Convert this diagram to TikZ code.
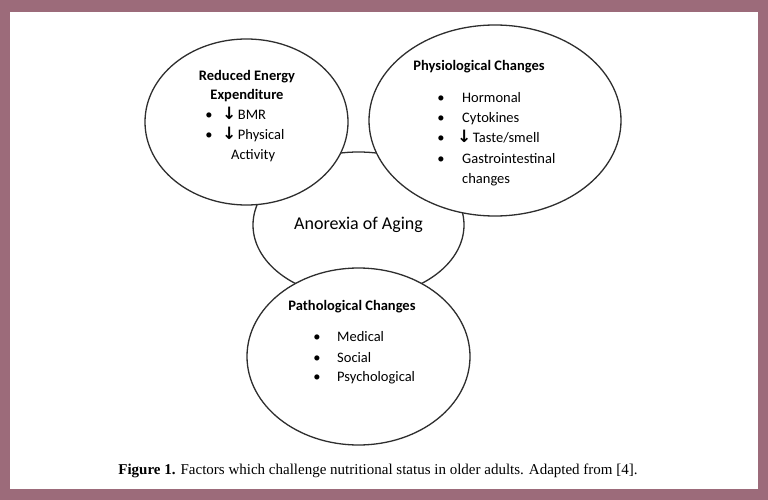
\documentclass[tikz,border=0pt]{standalone}
\usepackage{fontspec}
\usetikzlibrary{shapes.geometric}
\setmainfont{Carlito}
\newfontfamily\capfont{Liberation Serif}
\newfontfamily\arrfont{DejaVu Sans}
\definecolor{frame}{HTML}{9C6B7A}
\definecolor{edge}{HTML}{2E2E2E}
\newcommand{\down}{{\arrfont\bfseries\fontsize{17}{17}\selectfont ↓}\kern1.5pt}

\begin{document}
\begin{tikzpicture}[x=1pt, y=-1pt,
    circ/.style={ellipse, draw=edge, line width=1.3pt, fill=white, inner sep=0pt},
    head/.style={font=\fontsize{14.5}{17}\selectfont\bfseries, inner sep=0pt},
    item/.style={font=\fontsize{14.5}{17}\selectfont, anchor=west, inner sep=0pt, text height=1.5ex, text depth=.4ex},
    dot/.style={font=\fontsize{14.5}{17}\selectfont, inner sep=0pt, text height=1.5ex, text depth=.4ex},
  ]
    \fill[frame] (0,0) rectangle (768,500);
    \fill[white] (10,12) rectangle (758,489);

    \node[circ, minimum width=211pt, minimum height=146pt, font=\fontsize{18}{22}\selectfont] (aging) at (358.5,225) {Anorexia of Aging};
    \node[circ, minimum width=203pt, minimum height=166pt] (energy) at (246.5,122) {};
    \node[circ, minimum width=252pt, minimum height=191pt] (physio) at (495,120.5) {};
    \node[circ, minimum width=223pt, minimum height=177pt] (patho)  at (358.5,356.5) {};

    % reduced energy expenditure
    \node[head] (energy1) at (247,77) {Reduced Energy};
    \node[head] (energy2) at (247,96) {Expenditure};
    \node[dot]  (edot1) at (209,117) {•};
    \node[dot]  (edot2) at (209,137) {•};
    \node[item] (bmr)  at (222,117) {\down BMR};
    \node[item] (phys) at (222,137) {\down Physical};
    \node[item] (act)  at (231,157) {Activity};

    % physiological changes
    \node[head] (physhead) at (479,67) {Physiological Changes};
    \foreach \y/\n in {100/1, 120/2, 140/3, 161/4}
      \node[dot] (pdot\n) at (441,\y) {•};
    \node[item] (horm)  at (462,100) {Hormonal};
    \node[item] (cyto)  at (462,120) {Cytokines};
    \node[item] (taste) at (457,140) {\down Taste/smell};
    \node[item] (gastr) at (462,161) {Gastrointestinal};
    \node[item] (chg)   at (462,181) {changes};

    % pathological changes
    \node[head] (pathhead) at (352,307) {Pathological Changes};
    \foreach \y/\n in {339/1, 360/2, 379/3}
      \node[dot] (qdot\n) at (317,\y) {•};
    \node[item] (med)  at (337,339) {Medical};
    \node[item] (soc)  at (337,360) {Social};
    \node[item] (psy)  at (337,379) {Psychological};

    \node[font=\capfont\fontsize{15}{17}\selectfont] (caption) at (378,471)
      {\textbf{Figure 1.} Factors which challenge nutritional status in older adults. Adapted from [4].};
\end{tikzpicture}
\end{document}
